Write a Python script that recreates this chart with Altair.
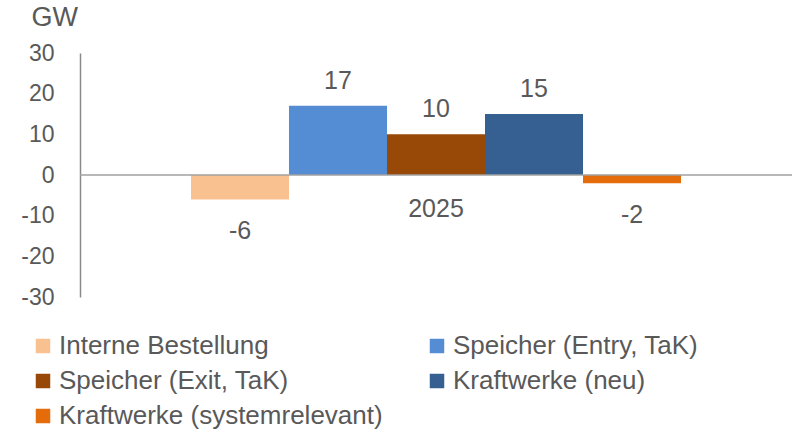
import altair as alt
import pandas as pd

series = ["Interne Bestellung", "Speicher (Entry, TaK)", "Speicher (Exit, TaK)",
          "Kraftwerke (neu)", "Kraftwerke (systemrelevant)"]
values = [-6, 17, 10, 15, -2]
colors = ["#F9C18F", "#548DD4", "#984807", "#366092", "#E46C0A"]
year = ["2025"]
y_ticks = [-30, -20, -10, 0, 10, 20, 30]

df = pd.DataFrame({"Jahr": year * len(series), "Serie": series, "Wert": values})
df["Label"] = df["Wert"].astype(str)

FONT = "Liberation Sans"
TXT = "#595959"

x_enc = alt.X("Jahr:N", scale=alt.Scale(paddingInner=0, paddingOuter=0.2265), axis=None)
xoff = alt.XOffset("Serie:N", sort=series, scale=alt.Scale(paddingInner=0, paddingOuter=0))
y_enc = alt.Y("Wert:Q", scale=alt.Scale(domain=[-30, 30], nice=False),
              axis=alt.Axis(values=y_ticks, grid=False, ticks=False, domain=True,
                            domainColor="#898989", domainWidth=1.5,
                            labelExpr="'' + datum.value",
                            labelFont=FONT, labelFontSize=23, labelColor=TXT,
                            labelPadding=26, title="GW", titleAngle=0,
                            titleFont=FONT, titleFontSize=27, titleFontWeight="normal",
                            titleColor=TXT, titleAlign="left", titleBaseline="middle",
                            titleX=-49, titleY=-36))

base = alt.Chart(df)

bars = base.mark_bar().encode(
    x=x_enc, xOffset=xoff, y=y_enc,
    color=alt.Color("Serie:N", sort=series,
                    scale=alt.Scale(domain=series, range=colors),
                    legend=alt.Legend(title=None, orient="none", legendX=-50, legendY=280,
                                      direction="horizontal",
                                      columns=2, columnPadding=41, rowPadding=9,
                                      symbolType="square", symbolSize=210,
                                      symbolStrokeWidth=0, labelFont=FONT,
                                      labelFontSize=26, labelColor=TXT, labelLimit=500,
                                      padding=0, labelOffset=3))
)

pos_lbl = base.transform_filter("datum.Wert >= 0").mark_text(
    font=FONT, fontSize=25, color=TXT, baseline="middle", dy=-25
).encode(x=x_enc, xOffset=xoff, y="Wert:Q", text="Label:N")

neg_lbl = base.transform_filter("datum.Wert < 0").mark_text(
    font=FONT, fontSize=25, color=TXT, baseline="middle", dy=32
).encode(x=x_enc, xOffset=xoff, y="Wert:Q", text="Label:N")

zero = alt.Chart(pd.DataFrame({"z": [0]})).mark_rule(color="#A0A0A0", strokeWidth=1.5).encode(
    y="z:Q", x=alt.value(0), x2=alt.value(712))

cat_lbl = alt.Chart(pd.DataFrame({"Jahr": year, "z": [0]})).mark_text(
    font=FONT, fontSize=25, color=TXT, baseline="middle", dy=34
).encode(x=x_enc, y="z:Q", text="Jahr:N")

chart = alt.layer(bars, zero, pos_lbl, neg_lbl, cat_lbl).properties(
    width=712, height=244,
    background="white",
    autosize=alt.AutoSizeParams(type="none"),
    padding={"left": 80, "top": 53, "right": 6, "bottom": 136},
).configure_view(stroke=None)

chart.save("out.html", embed_options={"renderer": "svg", "actions": False})
